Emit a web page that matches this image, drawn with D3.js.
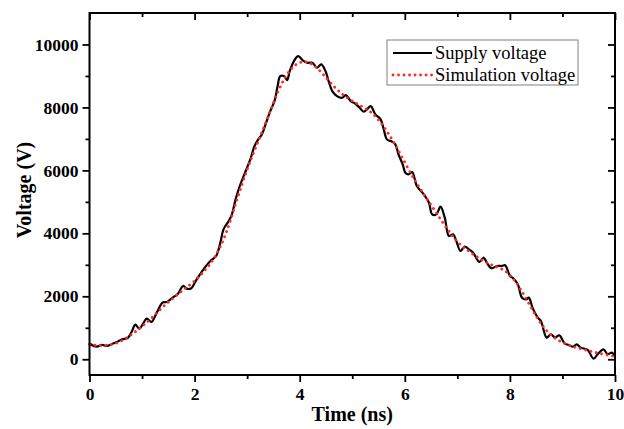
<!DOCTYPE html>
<html>
<head>
<meta charset="utf-8">
<script src="https://cdn.jsdelivr.net/npm/d3@7"></script>
<style>
  body { margin: 0; background: #fff; }
  svg { display: block; font-family: "Liberation Serif", "Times New Roman", serif; }
</style>
</head>
<body>
<svg id="chart" width="624" height="429"></svg>
<script>
// measured supply voltage (time in ns, volts)
const supplyT = [0, 0.07, 0.14, 0.24, 0.33, 0.43, 0.52, 0.62, 0.73, 0.81, 0.87, 0.95, 1.03, 1.09, 1.18, 1.28, 1.39, 1.47, 1.58, 1.68, 1.78, 1.85, 1.93,
  2.04, 2.17, 2.30, 2.41, 2.49, 2.55, 2.65, 2.71, 2.78, 2.86, 2.96, 3.06, 3.14, 3.22, 3.28, 3.35, 3.44, 3.52, 3.58, 3.63, 3.70, 3.76, 3.81, 3.89, 3.97,
  4.07, 4.14, 4.24, 4.33, 4.41, 4.49, 4.55, 4.62, 4.71, 4.81, 4.88, 4.97, 5.06, 5.14, 5.22, 5.28, 5.35, 5.44, 5.54, 5.60, 5.66, 5.76, 5.82, 5.88, 5.96,
  6.01, 6.07, 6.14, 6.23, 6.36, 6.46, 6.52, 6.60, 6.68, 6.76, 6.84, 6.92, 6.98, 7.06, 7.14, 7.22, 7.30, 7.42, 7.50, 7.56, 7.65, 7.75, 7.85, 7.91,
  8.00, 8.05, 8.15, 8.23, 8.31, 8.36, 8.43, 8.53, 8.59, 8.70, 8.78, 8.86, 8.94, 9.04, 9.13, 9.20, 9.27, 9.35, 9.48, 9.59, 9.67, 9.78, 9.86, 9.94, 10.0]
const supplyV = [500, 430, 402, 455, 423, 487, 550, 635, 677, 900, 1100, 973, 1164, 1291, 1185, 1481, 1800, 1820, 1958, 2074, 2328, 2243, 2250,
  2540, 2858, 3122, 3281, 3704, 4128, 4392, 4604, 5080, 5504, 5927, 6350, 6773, 7006, 7143, 7461, 7884, 8202, 8678, 8996, 8996, 8869, 9155, 9472, 9631,
  9480, 9419, 9419, 9260, 9366, 9155, 8837, 8520, 8361, 8308, 8393, 8202, 8117, 7990, 7863, 7937, 8043, 7778, 7620, 7302, 6985, 6911, 6826, 6509, 6191,
  5927, 5874, 5948, 5503, 5239, 4974, 4604, 4604, 4847, 4498, 3916, 3969, 3757, 3440, 3578, 3493, 3387, 3091, 3229, 3070, 2890, 2964, 2964, 2985,
  2646, 2593, 2381, 1958, 1905, 1958, 1640, 1323, 1217, 688, 794, 688, 762, 508, 445, 400, 476, 370, 296, 21, 159, 317, 159, 212, 100]

// simulated voltage
const simT = [0, 0.2, 0.4, 0.6, 0.8, 1.0, 1.2, 1.4, 1.6, 1.8, 2.0, 2.2, 2.4, 2.6, 2.8, 3.0, 3.2, 3.4, 3.6, 3.8, 4.0, 4.2, 4.4, 4.6, 4.8,
  5.0, 5.2, 5.4, 5.6, 5.8, 6.0, 6.2, 6.4, 6.6, 6.8, 7.0, 7.2, 7.4, 7.6, 7.8, 8.0, 8.2, 8.4, 8.6, 8.8, 9.0, 9.2, 9.4, 9.6, 9.8, 10.0]
const simV = [470, 420, 450, 560, 780, 1040, 1330, 1680, 1950, 2230, 2470, 2820, 3250, 3950, 5050, 6050, 6880, 7700, 8600, 9200, 9470, 9450, 9150, 8750, 8420,
  8200, 8020, 7820, 7400, 6880, 6250, 5650, 5150, 4650, 4150, 3700, 3450, 3220, 3020, 2920, 2720, 2250, 1650, 1080, 720, 520, 400, 310, 230, 150, 90]

const xTicks = [0, 2, 4, 6, 8, 10]
const yTicks = [0, 2000, 4000, 6000, 8000, 10000]
const seriesNames = ['Supply voltage', 'Simulation voltage']

const svg = d3.select('#chart')
const plotL = 89.5, plotR = 615, plotT = 13, plotB = 375

const x = d3.scaleLinear().domain([0, 10]).range([plotL, plotR])
const y = d3.scaleLinear().domain([-500, 11000]).range([plotB, plotT])

const supply = supplyT.map((t, i) => ({ t: t, v: supplyV[i] }))
const sim = simT.map((t, i) => ({ t: t, v: simV[i] }))

const line = d3.line()
  .x(d => x(d.t))
  .y(d => y(d.v))
  .curve(d3.curveCatmullRom.alpha(0.5))

svg.append('path')
  .datum(supply)
  .attr('d', line)
  .attr('fill', 'none')
  .attr('stroke', '#000')
  .attr('stroke-width', 2.2)
  .attr('stroke-linejoin', 'round')

svg.append('path')
  .datum(sim)
  .attr('d', line.curve(d3.curveBasis))
  .attr('fill', 'none')
  .attr('stroke', '#ff2a2a')
  .attr('stroke-width', 2.8)
  .attr('stroke-linecap', 'round')
  .attr('stroke-dasharray', '0.1 5.4')

// axes: left/bottom ticks outward, top/right inward
function styleAxis(g) {
  g.select('.domain').remove()
  g.selectAll('.tick line').attr('stroke', '#000').attr('stroke-width', 1.8)
  g.selectAll('text')
    .attr('font-family', '"Liberation Serif", "Times New Roman", serif')
    .attr('font-weight', 'bold')
    .attr('font-size', 17.5)
    .attr('fill', '#000')
}

const xMinor = d3.range(1, 10, 2)
const yMinor = d3.range(-1000, 11000, 2000).filter(v => v > -500)

svg.append('g').attr('transform', `translate(0,${plotB})`)
  .call(d3.axisBottom(x).tickValues(xTicks).tickFormat(d3.format('d')).tickSize(7).tickPadding(6))
  .call(styleAxis)
svg.append('g').attr('transform', `translate(0,${plotB})`)
  .call(d3.axisBottom(x).tickValues(xMinor).tickFormat('').tickSize(4))
  .call(styleAxis)
svg.append('g').attr('transform', `translate(0,${plotT})`)
  .call(d3.axisTop(x).tickValues(xTicks).tickFormat('').tickSize(-7))
  .call(styleAxis)
svg.append('g').attr('transform', `translate(0,${plotT})`)
  .call(d3.axisTop(x).tickValues(xMinor).tickFormat('').tickSize(-4))
  .call(styleAxis)

svg.append('g').attr('transform', `translate(${plotL},0)`)
  .call(d3.axisLeft(y).tickValues(yTicks).tickFormat(d3.format('d')).tickSize(7).tickPadding(4))
  .call(styleAxis)
svg.append('g').attr('transform', `translate(${plotL},0)`)
  .call(d3.axisLeft(y).tickValues(yMinor).tickFormat('').tickSize(4))
  .call(styleAxis)
svg.append('g').attr('transform', `translate(${plotR},0)`)
  .call(d3.axisRight(y).tickValues(yTicks).tickFormat('').tickSize(-7))
  .call(styleAxis)
svg.append('g').attr('transform', `translate(${plotR},0)`)
  .call(d3.axisRight(y).tickValues(yMinor).tickFormat('').tickSize(-4))
  .call(styleAxis)

svg.append('rect')
  .attr('x', plotL).attr('y', plotT)
  .attr('width', plotR - plotL).attr('height', plotB - plotT)
  .attr('fill', 'none')
  .attr('stroke', '#000')
  .attr('stroke-width', 2)

svg.append('text')
  .attr('x', (plotL + plotR) / 2)
  .attr('y', 421)
  .attr('text-anchor', 'middle')
  .attr('font-weight', 'bold')
  .attr('font-size', 20)
  .text('Time (ns)')

svg.append('text')
  .attr('transform', `translate(31,${(plotT + plotB) / 2 - 4}) rotate(-90)`)
  .attr('text-anchor', 'middle')
  .attr('font-weight', 'bold')
  .attr('font-size', 20)
  .text('Voltage (V)')

// legend
const legend = svg.append('g').attr('transform', 'translate(387,40)')
legend.append('rect')
  .attr('width', 191).attr('height', 45)
  .attr('fill', '#fff')
  .attr('stroke', '#808080')
  .attr('stroke-width', 1)

const legStyles = [
  { stroke: '#000', width: 2.2, dash: null, cap: 'butt' },
  { stroke: '#ff2a2a', width: 2.8, dash: '0.1 5.4', cap: 'round' }
]
seriesNames.forEach((name, i) => {
  const yy = 13 + i * 22
  legend.append('line')
    .attr('x1', 6).attr('x2', 45)
    .attr('y1', yy).attr('y2', yy)
    .attr('stroke', legStyles[i].stroke)
    .attr('stroke-width', legStyles[i].width)
    .attr('stroke-linecap', legStyles[i].cap)
    .attr('stroke-dasharray', legStyles[i].dash)
  legend.append('text')
    .attr('x', 48).attr('y', yy + 6)
    .attr('font-size', 18.5)
    .text(name)
})
</script>
</body>
</html>
